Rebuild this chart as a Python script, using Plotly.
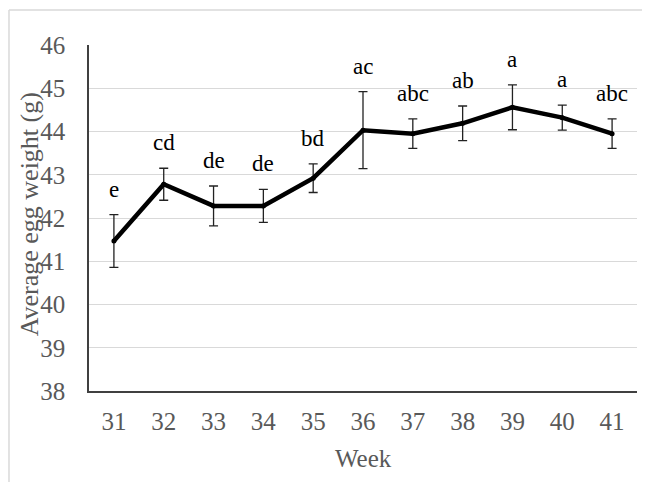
import plotly.graph_objects as go

weeks = ["31", "32", "33", "34", "35", "36", "37", "38", "39", "40", "41"]
mean_weight = [41.47, 42.78, 42.28, 42.28, 42.92, 44.03, 43.95, 44.19, 44.56, 44.32, 43.95]
err_weight = [0.61, 0.37, 0.46, 0.38, 0.33, 0.89, 0.34, 0.40, 0.52, 0.29, 0.34]
sig_letters = ["e", "cd", "de", "de", "bd", "ac", "abc", "ab", "a", "a", "abc"]
y_ticks = [38, 39, 40, 41, 42, 43, 44, 45, 46]

SERIF = "Liberation Serif"
GRAY = "#595959"

fig = go.Figure()
fig.add_trace(go.Scatter(
    x=weeks, y=mean_weight,
    mode="lines+markers",
    line=dict(color="black", width=4.5),
    marker=dict(color="black", size=5),
    error_y=dict(type="data", array=err_weight, visible=True,
                 color="#222222", thickness=1.3, width=4.5),
    showlegend=False, hoverinfo="skip",
))

for i, (m, e, lab) in enumerate(zip(mean_weight, err_weight, sig_letters)):
    fig.add_annotation(x=i, y=m + e, text=lab, showarrow=False,
                       yanchor="bottom", yshift=11,
                       font=dict(family=SERIF, size=23, color="black"))

fig.add_annotation(xref="paper", yref="paper", x=-0.108, y=0.51,
                   text="Average egg weight (g)", textangle=-90, showarrow=False,
                   xanchor="center", yanchor="middle",
                   font=dict(family=SERIF, size=26, color=GRAY))
fig.add_annotation(xref="paper", yref="paper", x=0.5, y=-0.194,
                   text="Week", showarrow=False,
                   xanchor="center", yanchor="middle",
                   font=dict(family=SERIF, size=25, color=GRAY))

# light outer frame (top and left edges of the chart area)
fig.add_shape(type="line", xref="paper", yref="paper",
              x0=-0.146, x1=1.05, y0=1.101, y1=1.101,
              line=dict(color="#d9d9d9", width=1.5))
fig.add_shape(type="line", xref="paper", yref="paper",
              x0=-0.146, x1=-0.146, y0=1.101, y1=-0.3,
              line=dict(color="#d9d9d9", width=1.5))

fig.update_layout(
    width=650, height=482,
    margin=dict(l=81, r=21, t=37, b=99),
    paper_bgcolor="white", plot_bgcolor="white",
    font=dict(family=SERIF),
    xaxis=dict(
        type="category", range=[-0.5, len(weeks) - 0.5],
        categoryorder="array", categoryarray=weeks,
        showgrid=False, showline=True,
        linecolor="#404040", linewidth=1.5,
        ticks="outside", ticklen=7, tickcolor="rgba(0,0,0,0)",
        tickfont=dict(family=SERIF, size=25, color=GRAY),
        zeroline=False,
    ),
    yaxis=dict(
        range=[38, 46], tickvals=y_ticks,
        showgrid=True, gridcolor="#d9d9d9", gridwidth=1.2,
        showline=True, linecolor="#404040", linewidth=1.5,
        ticks="outside", ticklen=17, tickcolor="rgba(0,0,0,0)",
        tickfont=dict(family=SERIF, size=25, color=GRAY),
        zeroline=False,
    ),
)

fig.write_html("out.html")
